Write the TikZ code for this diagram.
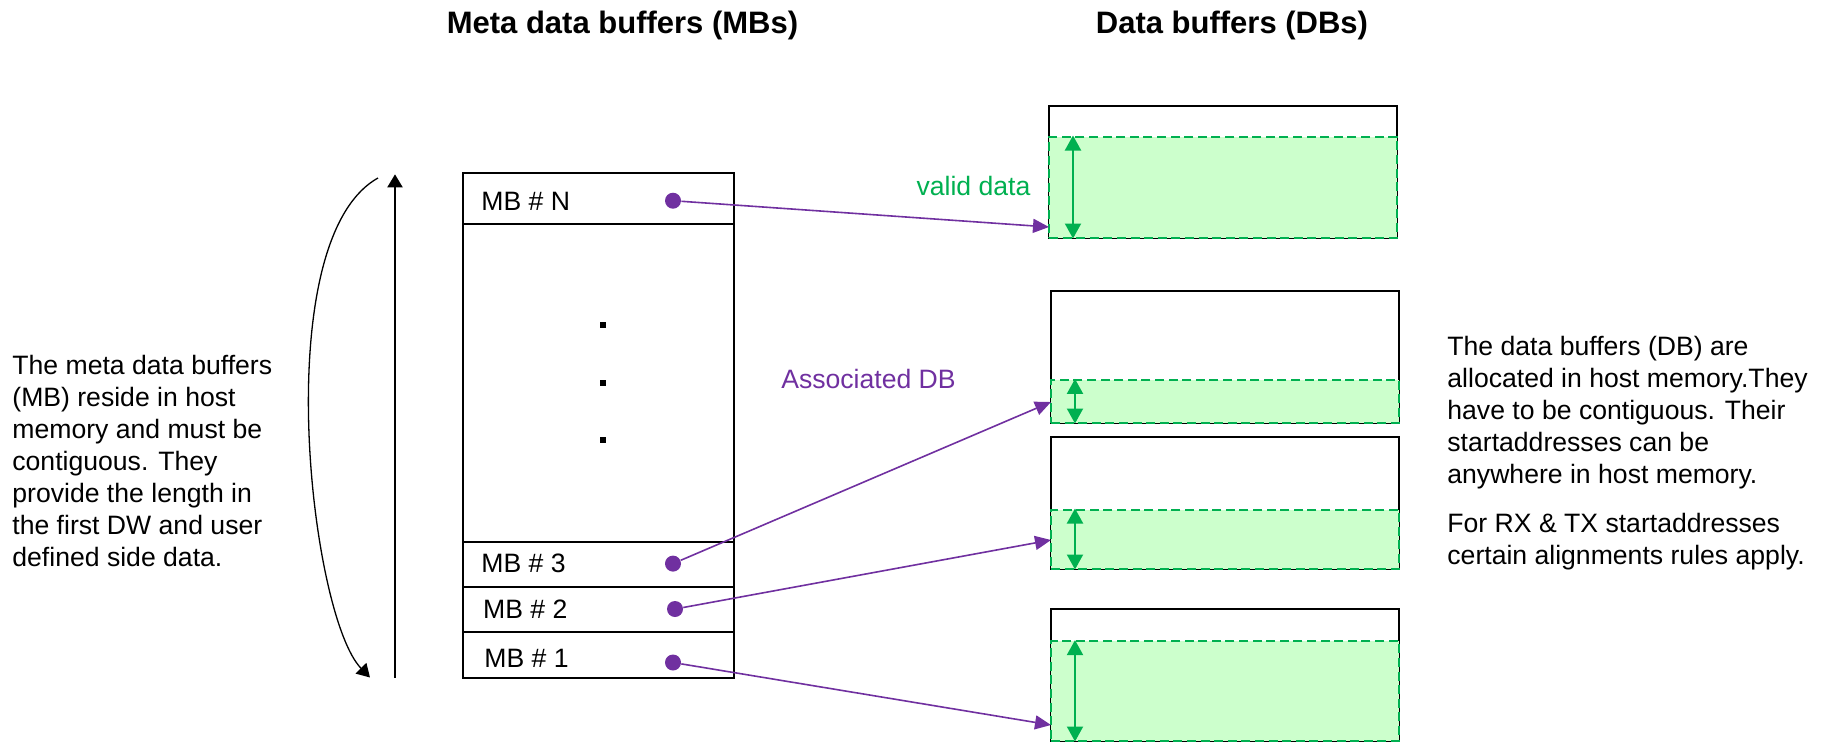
\documentclass[tikz,border=0pt]{standalone}
\usepackage{fontspec}
\setmainfont{Liberation Sans}
\usepackage{tikz}
\usetikzlibrary{arrows.meta, positioning}
\definecolor{linkpurple}{HTML}{7030A0}
\definecolor{validgreen}{HTML}{00B050}
\definecolor{validfill}{HTML}{CCFFCC}

\begin{document}
\begin{tikzpicture}[x=0.5pt, y=-0.5pt, font=\fontsize{13.3}{16}\selectfont]
        % Setup the styles for the buffers
        \tikzset{mb style/.style={rectangle, draw=black, line width=1pt,
                                  minimum width=135.5pt, inner sep=0pt}}
        \tikzset{db style/.style={rectangle, draw=black, line width=1pt,
                                  minimum width=174pt, minimum height=66pt,
                                  inner sep=0pt}}
        \tikzset{valid style/.style={rectangle, draw=validgreen, fill=validfill,
                                     dash pattern=on 4.5pt off 2.3pt,
                                     line width=1pt, minimum width=174pt,
                                     inner sep=0pt, anchor=south}}
        \tikzset{link dot/.style={circle, fill=linkpurple, minimum size=8pt,
                                  inner sep=0pt}}
        \tikzset{gap dot/.style={rectangle, fill=black, minimum size=2.75pt,
                                 inner sep=0pt}}
        \tikzset{mb label/.style={anchor=base west, inner sep=0pt}}
        \tikzset{title style/.style={font=\fontsize{15.5}{18}\selectfont\bfseries,
                                     anchor=base, inner sep=0pt}}
        \tikzset{info style/.style={align=left, anchor=north west, inner sep=0pt}}
        \tikzset{link arrow/.style={draw=linkpurple, line width=0.8pt,
                                    -{Triangle[length=8pt, width=7pt]}}}
        \tikzset{valid arrow/.style={draw=validgreen, line width=1pt,
                                     {Triangle[length=7.5pt, width=8pt]}-{Triangle[length=7.5pt, width=8pt]}}}
        \tikzset{cycle arrow/.style={draw=black,
                                     -{Triangle[length=6.5pt, width=7.5pt]}}}

        \useasboundingbox (0,0) rectangle (1822,741);

        % Titles
        \node[title style] at (622.5,33) (mbtitle) {Meta data buffers (MBs)};
        \node[title style] at (1232,33)  (dbtitle) {Data buffers (DBs)};

        % Draw the meta data buffers
        \node[mb style, minimum height=25.7pt]  at (598.7,198.2)  (mbN)   {};
        \node[mb style, minimum height=158.8pt] at (598.7,382.7)  (mbgap) {};
        \node[mb style, minimum height=22.5pt]  at (598.7,564)    (mb3)   {};
        \node[mb style, minimum height=22.75pt] at (598.7,609.25) (mb2)   {};
        \node[mb style, minimum height=22.75pt] at (598.7,654.75) (mb1)   {};
        \node[mb label] at (481,210.7) (mbNlabel) {MB \# N};
        \node[mb label] at (481,572.5) (mb3label) {MB \# 3};
        \node[mb label] at (482.7,618.6) (mb2label) {MB \# 2};
        \node[mb label] at (484,667.1) (mb1label) {MB \# 1};
        \node[gap dot] at (603,325) (gapA) {};
        \node[gap dot] at (603,383) (gapB) {};
        \node[gap dot] at (603,440) (gapC) {};
        \node[link dot] at (673,200.7) (dotN) {};
        \node[link dot] at (673,563.6) (dot3) {};
        \node[link dot] at (675,609)   (dot2) {};
        \node[link dot] at (673,662.5) (dot1) {};

        % Draw the data buffers
        \node[db style] at (1223,171.5) (dbN) {};
        \node[db style] at (1225,356.5) (db3) {};
        \node[db style] at (1225,502.5) (db2) {};
        \node[db style] at (1225,674.5) (db1) {};
        \node[valid style, minimum height=50.5pt] at (dbN.south) (validN) {};
        \node[valid style, minimum height=21.3pt] at (db3.south) (valid3) {};
        \node[valid style, minimum height=29.5pt] at (db2.south) (valid2) {};
        \node[valid style, minimum height=49.7pt] at (db1.south) (valid1) {};
        \draw[valid arrow] ([xshift=12.5pt]validN.north west) -- ([xshift=12.5pt]validN.south west);
        \draw[valid arrow] ([xshift=12.5pt]valid3.north west) -- ([xshift=12.5pt]valid3.south west);
        \draw[valid arrow] ([xshift=12.5pt]valid2.north west) -- ([xshift=12.5pt]valid2.south west);
        \draw[valid arrow] ([xshift=12.5pt]valid1.north west) -- ([xshift=12.5pt]valid1.south west);
        \node[text=validgreen, anchor=base] at (973.5,195)   (validlabel) {valid data};
        \node[text=linkpurple, anchor=base] at (868.5,388.3) (assoclabel) {Associated DB};

        % Connect the meta data buffers with their data buffers
        \coordinate (inN) at (1049,227);
        \coordinate (in3) at (1051,402);
        \coordinate (in2) at (1051,540);
        \coordinate (in1) at (1051,725);
        \draw[link arrow] (dotN) -- (inN);
        \draw[link arrow] (dot3) -- (in3);
        \draw[link arrow] (dot2) -- (in2);
        \draw[link arrow] (dot1) -- (in1);

        % Ring direction arrows
        \coordinate (growbot) at (395,677.5);
        \coordinate (growtop) at (395,174.3);
        \coordinate (wrapstart) at (378,178);
        \coordinate (wrapend) at (370,677.5);
        \draw[cycle arrow, line width=1pt] (growbot) -- (growtop);
        \draw[cycle arrow, line width=0.65pt] (wrapstart) .. controls (267,240) and (310,616) .. (wrapend);

        % Notes
        \node[info style] at (12,355) (mbinfo)
            {The meta data buffers\\(MB) reside in host\\memory and must be\\contiguous. They\\provide the length in\\the first DW and user\\defined side data.};
        \node[info style] at (1447,336) (dbinfo)
            {The data buffers (DB) are\\allocated in host memory.They\\have to be contiguous. Their\\startaddresses can be\\anywhere in host memory.\\[8.3pt]For RX \& TX startaddresses\\certain alignments rules apply.};
\end{tikzpicture}
\end{document}
